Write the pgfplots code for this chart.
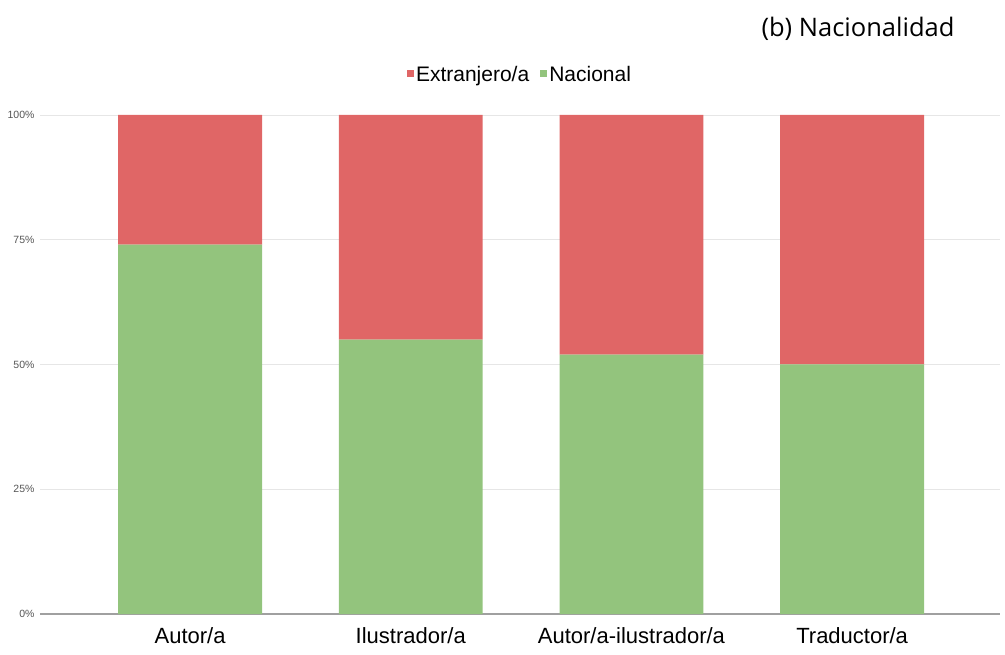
\documentclass[border=0pt]{standalone}
\usepackage{pgfplots}
\pgfplotsset{compat=1.18}
\usepackage{fontspec}
\setmainfont{Liberation Sans}
\newfontfamily\titlefont{Open Sans}
\definecolor{cred}{HTML}{E06666}
\definecolor{cgreen}{HTML}{93C47D}
\definecolor{cgrid}{HTML}{E6E6E6}
\definecolor{caxis}{HTML}{A0A0A0}
\definecolor{ctick}{HTML}{555555}
\begin{document}
\begin{tikzpicture}[x=1pt,y=1pt]
\path[use as bounding box] (0,0) rectangle (1005,654);
\begin{axis}[
  at={(40pt,40pt)}, anchor=south west,
  scale only axis, width=960pt, height=499pt,
  ybar stacked, bar width=0.652,
  xmin=-0.68, xmax=3.67, ymin=0, ymax=100,
  xtick={0,1,2,3},
  xticklabels={Autor/a,Ilustrador/a,Autor/a-ilustrador/a,Traductor/a},
  ytick={0,25,50,75,100},
  yticklabels={0\%,25\%,50\%,75\%,100\%},
  yticklabel style={font=\fontsize{10.5}{11}\selectfont, text=ctick, xshift=-2pt},
  xticklabel style={font=\fontsize{22}{24}\selectfont, text=black, yshift=-10pt},
  ymajorgrids, grid style={cgrid, line width=0.8pt},
  axis line style={draw=none},
  axis x line*=bottom, axis y line*=left,
  major tick length=0pt,
  x axis line style={draw=caxis, line width=1.5pt},
  y axis line style={draw=none},
  legend style={at={(0.5,1.0)}, anchor=south, yshift=28pt, draw=none, fill=none,
     legend columns=-1, font=\fontsize{21}{23}\selectfont,
     /tikz/every even column/.append style={column sep=9pt}},
  legend image code/.code={\fill[#1] (-3pt,-3pt) rectangle (4pt,4pt);},
  reverse legend,
]
\addplot[fill=cgreen, draw=none] coordinates {(0,74) (1,55) (2,52) (3,50)};
\addplot[fill=cred, draw=none] coordinates {(0,26) (1,45) (2,48) (3,50)};
\legend{Nacional, Extranjero/a}
\end{axis}
\node[anchor=base east, font=\titlefont\fontsize{25.5}{27}\selectfont] at (958,617) {(b) Nacionalidad};
\end{tikzpicture}
\end{document}
